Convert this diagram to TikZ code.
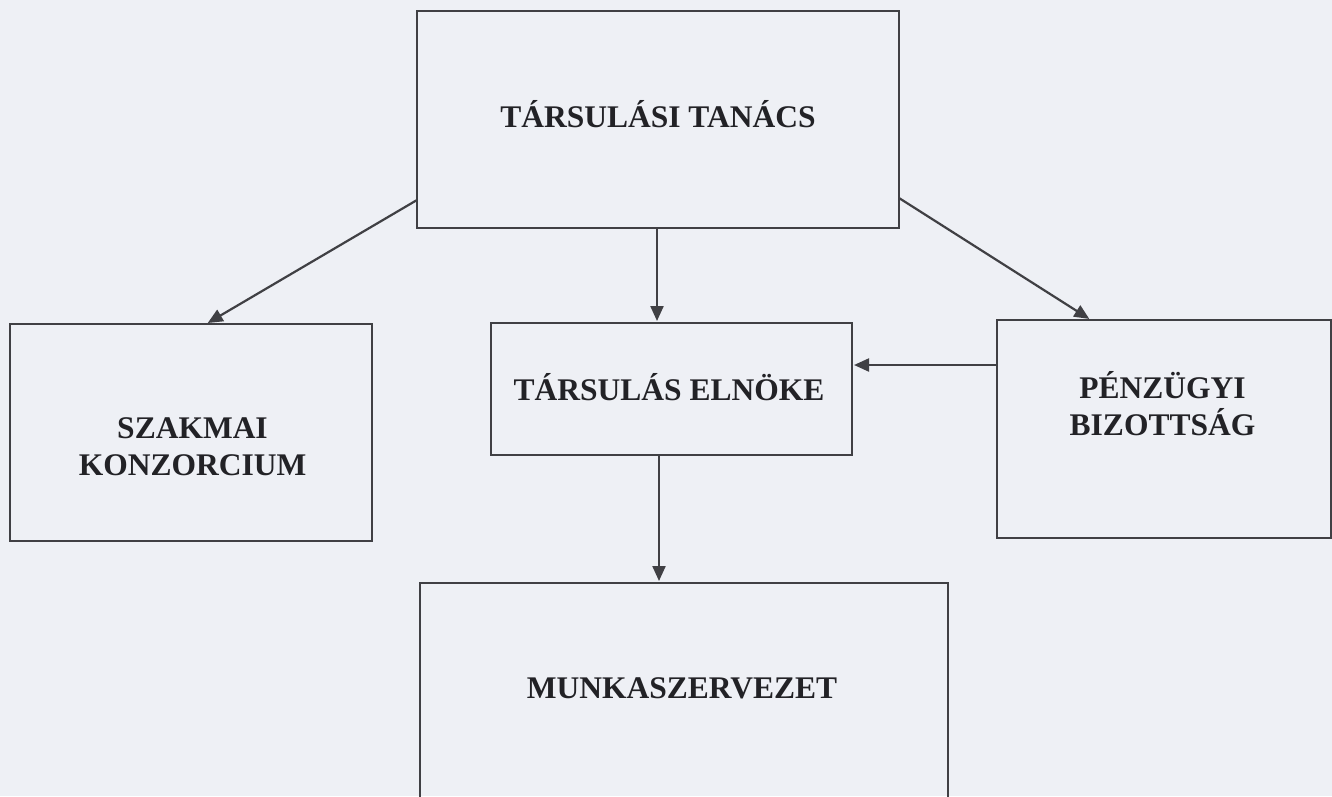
\documentclass[tikz,border=0pt]{standalone}
\usepackage{fontspec}
\setmainfont{Liberation Serif}
\usetikzlibrary{arrows.meta,calc}
\definecolor{bg}{HTML}{EEF0F5}
\definecolor{ln}{HTML}{404044}
\definecolor{tx}{HTML}{222226}
\begin{document}
\begin{tikzpicture}[x=1pt,y=-1pt,
  box/.style={draw=ln,line width=2.6pt,fill=none,inner sep=0pt,outer sep=0pt},
  lbl/.style={text=tx,font=\fontsize{31.5}{37}\selectfont\bfseries,inner sep=0pt,align=center},
  conn/.style={draw=ln,line width=2.2pt,-{Triangle[length=15pt,width=13pt]},shorten >=2pt}]
\fill[bg] (0,0) rectangle (1332,796);
\useasboundingbox (0,0) rectangle (1332,796);
% boxes
\node[box,minimum width=482pt,minimum height=217pt] (tt) at (658,119.5) {};
\node[box,minimum width=361pt,minimum height=132pt] (el) at (671.5,389) {};
\node[box,minimum width=362pt,minimum height=217pt] (sk) at (191,432.5) {};
\node[box,minimum width=334pt,minimum height=218pt] (pb) at (1164,429) {};
\node[box,minimum width=528pt,minimum height=230pt] (mu) at (684,698) {};
% labels
\node[lbl,anchor=base] (ttl) at (658,127) {TÁRSULÁSI TANÁCS};
\node[lbl,anchor=base] (ell) at (669,400) {TÁRSULÁS ELNÖKE};
\node[lbl,anchor=base] (skl) at (192.5,475) {SZAKMAI\\KONZORCIUM};
\node[lbl,anchor=base] (pbl) at (1162.5,435) {PÉNZÜGYI\\BIZOTTSÁG};
\node[lbl,anchor=base] (mul) at (682,698) {MUNKASZERVEZET};
% connectors
\coordinate (a1s) at ($(tt.south west)+(0,-28)$);
\coordinate (a1e) at ($(sk.north west)+(196,0)$);
\draw[conn] (a1s) -- (a1e);
\coordinate (a2s) at ($(tt.south east)+(0,-30)$);
\coordinate (a2e) at ($(pb.north west)+(94,0)$);
\draw[conn] (a2s) -- (a2e);
\draw[conn] (tt.south -| 657,0) -- (el.north -| 657,0);
\draw[conn] (el.south -| 659,0) -- (mu.north -| 659,0);
\draw[conn] (pb.west |- 0,365) -- (el.east |- 0,365);
\end{tikzpicture}
\end{document}
